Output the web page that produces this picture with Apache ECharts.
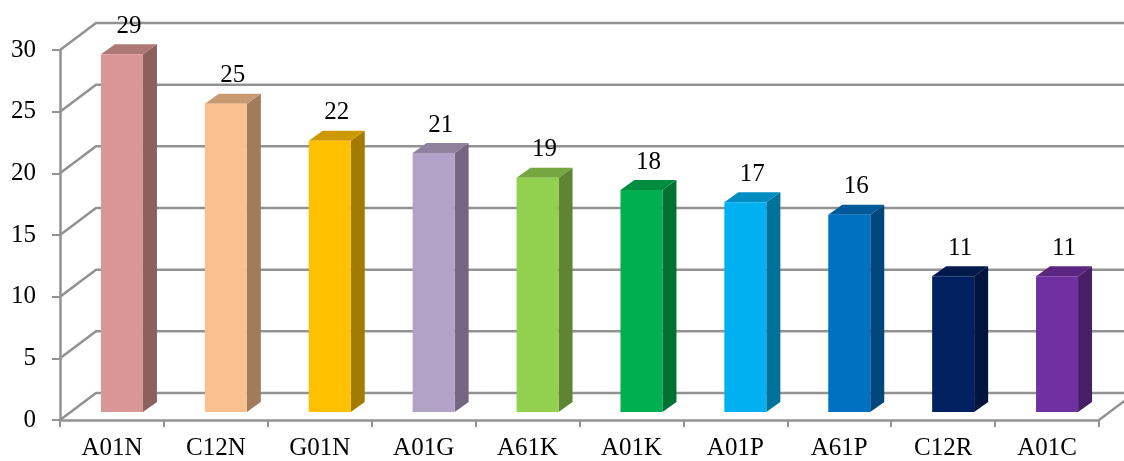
<!DOCTYPE html>
<html>
<head>
<meta charset="utf-8">
<script src="https://cdn.jsdelivr.net/npm/echarts@6/dist/echarts.min.js"></script>
<style>
  html, body { margin: 0; padding: 0; background: #ffffff; }
  #chart { width: 1124px; height: 461px; }
</style>
</head>
<body>
<div id="chart"></div>
<script>
// Counts per classification code
const categories = ['A01N', 'C12N', 'G01N', 'A01G', 'A61K', 'A01K', 'A01P', 'A61P', 'C12R', 'A01C'];
const counts = [29, 25, 22, 21, 19, 18, 17, 16, 11, 11];
const barColors = ['#D99694', '#FAC090', '#FFC000', '#B3A2C7', '#92D050', '#00B050', '#00B0F0', '#0070C0', '#002060', '#7030A0'];
const yTicks = [0, 5, 10, 15, 20, 25, 30];

const FONT = '"Liberation Serif", "Times New Roman", serif';
const FONT_SIZE = 25;
const GRID_COLOR = '#929292';

// Depth geometry of the pseudo-3D box
const WALL_DX = 36, WALL_DY = -27;   // back wall offset
const BAR_DX = 10, BAR_DY = -8;      // bar front face offset into the box
const SIDE_DX = 14, SIDE_DY = -10;   // bar thickness
const BAR_W = 42;

function shade(hex, f) {
  const n = parseInt(hex.slice(1), 16);
  const r = Math.round(((n >> 16) & 255) * f);
  const g = Math.round(((n >> 8) & 255) * f);
  const b = Math.round((n & 255) * f);
  return 'rgb(' + r + ',' + g + ',' + b + ')';
}

const chart = echarts.init(document.getElementById('chart'), null, { renderer: 'canvas' });

const option = {
  animation: false,
  backgroundColor: '#ffffff',
  grid: { left: 60, right: 25, top: 50, bottom: 41, containLabel: false },
  xAxis: {
    type: 'category',
    data: categories,
    boundaryGap: true,
    axisLine: { show: true, lineStyle: { color: GRID_COLOR, width: 2.5 } },
    axisTick: { show: true, alignWithLabel: false, length: 7, lineStyle: { color: GRID_COLOR, width: 2 } },
    axisLabel: { color: '#000', fontFamily: FONT, fontSize: FONT_SIZE, margin: 16 },
    splitLine: { show: false }
  },
  yAxis: {
    type: 'value',
    min: 0,
    max: 30,
    interval: 5,
    axisLine: { show: true, lineStyle: { color: GRID_COLOR, width: 2.5 } },
    axisTick: { show: true, length: 8, lineStyle: { color: GRID_COLOR, width: 2 } },
    axisLabel: { color: '#000', fontFamily: FONT, fontSize: FONT_SIZE, margin: 24 },
    splitLine: { show: false }
  },
  series: [
    {
      // Slanted gridlines on the left wall and back wall, plus the floor edge
      type: 'custom',
      z: 1,
      silent: true,
      data: yTicks.map(v => [0, v]),
      renderItem: function (params, api) {
        const cs = params.coordSys;
        const v = api.value(1);
        const p = api.coord([0, v]);
        const xl = cs.x, xr = cs.x + cs.width;
        const y = p[1];
        const children = [{
          type: 'polyline',
          shape: { points: [[xl, y], [xl + WALL_DX, y + WALL_DY], [xr + WALL_DX, y + WALL_DY]] },
          style: { stroke: GRID_COLOR, lineWidth: 2.5, fill: null }
        }];
        if (v === 0) {
          children.push({
            type: 'line',
            shape: { x1: xr, y1: y, x2: xr + WALL_DX, y2: y + WALL_DY },
            style: { stroke: GRID_COLOR, lineWidth: 2.5 }
          });
        }
        return { type: 'group', children: children };
      }
    },
    {
      // 3D-style bars: front, side and top faces with value labels
      type: 'custom',
      z: 3,
      data: counts.map((c, i) => [i, c]),
      renderItem: function (params, api) {
        const i = api.value(0);
        const v = api.value(1);
        const p0 = api.coord([i, 0]);
        const p1 = api.coord([i, v]);
        const col = barColors[i];
        const xl = p0[0] + BAR_DX - BAR_W / 2;
        const xr = xl + BAR_W;
        const yb = p0[1] + BAR_DY;
        const yt = p1[1] + BAR_DY;
        return {
          type: 'group',
          children: [
            {
              type: 'polygon',
              shape: { points: [[xr, yt], [xr + SIDE_DX, yt + SIDE_DY], [xr + SIDE_DX, yb + SIDE_DY], [xr, yb]] },
              style: { fill: shade(col, 0.64) }
            },
            {
              type: 'polygon',
              shape: { points: [[xl, yt], [xl + SIDE_DX, yt + SIDE_DY], [xr + SIDE_DX, yt + SIDE_DY], [xr, yt]] },
              style: { fill: shade(col, 0.8) }
            },
            {
              type: 'rect',
              shape: { x: xl, y: yt, width: BAR_W, height: yb - yt },
              style: { fill: col }
            },
            {
              type: 'text',
              style: {
                text: String(v),
                x: (xl + xr + SIDE_DX) / 2,
                y: yt + SIDE_DY - 18,
                align: 'center',
                verticalAlign: 'middle',
                fill: '#000',
                font: FONT_SIZE + 'px ' + FONT
              }
            }
          ]
        };
      }
    }
  ]
};

chart.setOption(option);
</script>
</body>
</html>
